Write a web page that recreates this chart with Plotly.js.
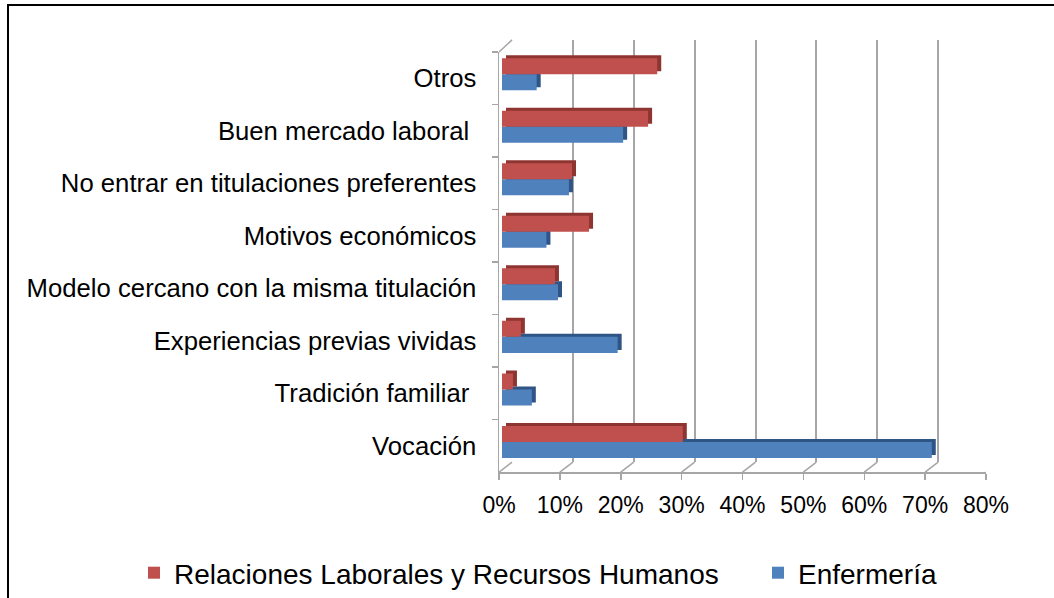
<!DOCTYPE html>
<html><head><meta charset="utf-8">
<script src="https://cdn.plot.ly/plotly-3.0.1.min.js"></script>
<style>html,body{margin:0;padding:0;background:#fff}</style>
</head><body><div id="chart" style="width:1054px;height:598px"></div>
<script>
// Data (bottom to top, as drawn by the category axis)
const categories = [
  "Vocación",
  "Tradición familiar ",
  "Experiencias previas vividas",
  "Modelo cercano con la misma titulación",
  "Motivos económicos",
  "No entrar en titulaciones preferentes",
  "Buen mercado laboral ",
  "Otros"
];
const relaciones = [29.7, 1.8, 3.1, 8.7, 14.3, 11.5, 24.0, 25.5];
const enfermeria = [70.6, 4.9, 19.0, 9.2, 7.3, 11.0, 19.9, 5.7];
const seriesNames = ["Relaciones Laborales y Recursos Humanos", "Enfermería"];
const tickValues = [0, 10, 20, 30, 40, 50, 60, 70, 80];
const tickLabels = ["0%", "10%", "20%", "30%", "40%", "50%", "60%", "70%", "80%"];

const W = 1054, H = 598;
const px = x => x / W;
const py = y => 1 - y / H;
const FONT = '"Liberation Sans", Arial, sans-serif';
const GRID = '#A6A6A6';
const RED = '#C0504D', RED_DARK = '#8E3431';
const BLUE = '#4F81BD', BLUE_DARK = '#2E5586';

const traces = [
  // anchors the category labels axis
  {type: 'scatter', mode: 'markers', x: enfermeria, y: categories, xaxis: 'x', yaxis: 'y',
   marker: {opacity: 0}, showlegend: false, hoverinfo: 'skip'},
  // back wall grid
  {type: 'scatter', mode: 'markers', x: enfermeria, y: categories, xaxis: 'x2', yaxis: 'y2',
   marker: {opacity: 0}, showlegend: false, hoverinfo: 'skip'},
  // 3D side faces
  {type: 'bar', orientation: 'h', x: enfermeria, y: categories, xaxis: 'x3', yaxis: 'y3',
   marker: {color: BLUE_DARK}, showlegend: false, hoverinfo: 'skip'},
  {type: 'bar', orientation: 'h', x: relaciones, y: categories, xaxis: 'x3', yaxis: 'y3',
   marker: {color: RED_DARK}, showlegend: false, hoverinfo: 'skip'},
  // front faces
  {type: 'bar', orientation: 'h', name: seriesNames[1], x: enfermeria, y: categories, xaxis: 'x4', yaxis: 'y4',
   marker: {color: BLUE}, hoverinfo: 'skip'},
  {type: 'bar', orientation: 'h', name: seriesNames[0], x: relaciones, y: categories, xaxis: 'x4', yaxis: 'y4',
   marker: {color: RED}, hoverinfo: 'skip', legendwidth: 579}
];

const hiddenX = {range: [0, 80], visible: false, fixedrange: true};
const hiddenY = {type: 'category', categoryorder: 'array', categoryarray: categories, range: [-0.5, 7.5], visible: false, fixedrange: true};

const shapes = [];
tickValues.forEach(v => {
  shapes.push({type: 'line', xref: 'x', xsizemode: 'pixel', xanchor: v, x0: 0, x1: 13,
    yref: 'paper', ysizemode: 'pixel', yanchor: py(473), y0: 0, y1: 10,
    line: {color: GRID, width: 1.5}});
});
shapes.push({type: 'line', xref: 'x', xsizemode: 'pixel', xanchor: 0, x0: 0, x1: 13,
  yref: 'paper', ysizemode: 'pixel', yanchor: py(52), y0: 0, y1: 12,
  line: {color: GRID, width: 1.5}});
shapes.push({type: 'rect', xref: 'paper', yref: 'paper', x0: px(8), x1: 1.05, y0: -0.05, y1: py(5),
  line: {color: '#000', width: 2}, fillcolor: 'rgba(0,0,0,0)'});

const layout = {
  width: W, height: H, autosize: false,
  margin: {l: 0, r: 0, t: 0, b: 0, pad: 0},
  paper_bgcolor: '#fff', plot_bgcolor: 'rgba(0,0,0,0)',
  font: {family: FONT, size: 23, color: '#000'},
  barmode: 'group', bargap: 0.39, bargroupgap: 0,
  showlegend: true,
  legend: {orientation: 'h', x: px(134), xanchor: 'left', y: py(574), yanchor: 'middle',
    traceorder: 'reversed', font: {family: FONT, size: 28, color: '#000'}, itemclick: false, itemdoubleclick: false},
  xaxis: {domain: [px(499), px(986)], range: [0, 80], anchor: 'y', tickmode: 'array',
    tickvals: tickValues, ticktext: tickLabels, ticks: 'outside', ticklen: 6, tickcolor: GRID, tickwidth: 1.5,
    showline: true, linecolor: GRID, linewidth: 1.5, showgrid: false, zeroline: false,
    tickfont: {family: FONT, size: 23, color: '#000'}, ticklabelstandoff: 6, fixedrange: true},
  yaxis: {domain: [py(473), py(52)], type: 'category', categoryorder: 'array', categoryarray: categories,
    range: [-0.5, 7.5], anchor: 'x', ticks: 'outside', tickson: 'boundaries', ticklen: 6, tickcolor: GRID, tickwidth: 1.5,
    showline: true, linecolor: GRID, linewidth: 1.5, showgrid: false, zeroline: false,
    tickfont: {family: FONT, size: 25.7, color: '#000'}, ticklabelstandoff: 16, fixedrange: true},
  xaxis2: {domain: [px(512), px(999)], range: [0, 80], anchor: 'y2', tickmode: 'array', tickvals: tickValues,
    showticklabels: false, ticks: '', showgrid: true, gridcolor: GRID, gridwidth: 2, zeroline: false, showline: false, fixedrange: true},
  yaxis2: {domain: [py(463), py(40)], type: 'category', categoryorder: 'array', categoryarray: categories,
    range: [-0.5, 7.5], anchor: 'x2', showticklabels: false, ticks: '', showgrid: false, zeroline: false, showline: false, fixedrange: true},
  xaxis3: Object.assign({domain: [px(506), px(993)], anchor: 'y3'}, hiddenX),
  yaxis3: Object.assign({domain: [py(466), py(45)], anchor: 'x3'}, hiddenY),
  xaxis4: Object.assign({domain: [px(502), px(989)], anchor: 'y4'}, hiddenX),
  yaxis4: Object.assign({domain: [py(469), py(48)], anchor: 'x4'}, hiddenY),
  shapes: shapes
};

Plotly.newPlot('chart', traces, layout, {displayModeBar: false, staticPlot: true});
</script></body></html>
